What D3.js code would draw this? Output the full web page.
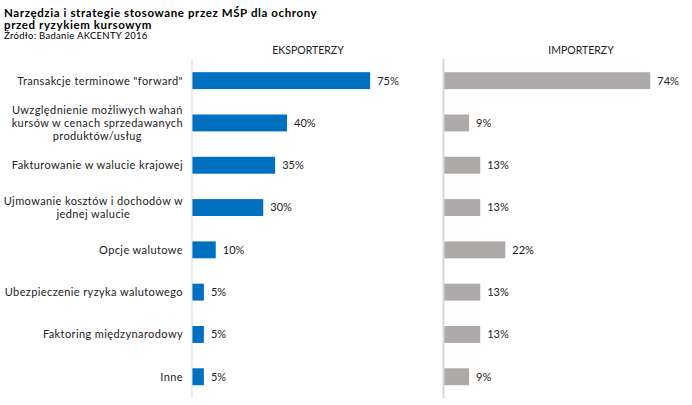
<!DOCTYPE html>
<html><head><meta charset="utf-8">
<script src="https://cdn.jsdelivr.net/npm/d3@7/dist/d3.min.js"></script>
<style>
html,body{margin:0;padding:0;background:#fff;}
svg{display:block;font-family:"Lato","DejaVu Sans",sans-serif;}
</style></head>
<body>
<svg id="chart" width="692" height="405"></svg>
<script>
const titleLines = ["Narzędzia i strategie stosowane przez MŚP dla ochrony", "przed ryzykiem kursowym"];
const sourceText = "Źródło: Badanie AKCENTY 2016";
const panelTitles = ["EKSPORTERZY", "IMPORTERZY"];
const categories = [
  "Transakcje terminowe \"forward\"",
  "Uwzględnienie możliwych wahań kursów w cenach sprzedawanych produktów/usług",
  "Fakturowanie w walucie krajowej",
  "Ujmowanie kosztów i dochodów w jednej walucie",
  "Opcje walutowe",
  "Ubezpieczenie ryzyka walutowego",
  "Faktoring międzynarodowy",
  "Inne"
];
const categoryLines = [
  ["Transakcje terminowe \"forward\""],
  ["Uwzględnienie możliwych wahań", "kursów w cenach sprzedawanych", "produktów/usług"],
  ["Fakturowanie w walucie krajowej"],
  ["Ujmowanie kosztów i dochodów w", "jednej walucie"],
  ["Opcje walutowe"],
  ["Ubezpieczenie ryzyka walutowego"],
  ["Faktoring międzynarodowy"],
  ["Inne"]
];
const exporters = [75, 40, 35, 30, 10, 5, 5, 5];
const importers = [74, 9, 13, 13, 22, 13, 13, 9];

const svg = d3.select("#chart");

// Title
const title = svg.append("text")
  .style("font-size", "11.5px").style("font-weight", "bold")
  .style("letter-spacing", "0.6px").attr("fill", "#000");
titleLines.forEach((ln, i) => {
  title.append("tspan").attr("x", 4).attr("y", 17 + i * 11.6).text(ln);
});
svg.append("text").attr("x", 4).attr("y", 38.5)
  .style("font-size", "9.5px").style("letter-spacing", "0.3px").attr("fill", "#000")
  .text(sourceText);

const y = d3.scaleBand().domain(categories).range([59.5, 397.9])
  .paddingInner(0.6).paddingOuter(0.3);

const xL = d3.scaleLinear().domain([0, 80]).range([192, 382]);
const xR = d3.scaleLinear().domain([0, 80]).range([444, 667]);

function panel(x, values, color, title, titleX, axisW) {
  const g = svg.append("g");
  g.append("text").attr("x", titleX).attr("y", 54).attr("text-anchor", "middle")
    .style("font-size", "10.5px").attr("fill", "#222").text(title);
  g.selectAll("rect").data(values).join("rect")
    .attr("x", x(0))
    .attr("y", (d, i) => y(categories[i]))
    .attr("width", d => x(d) - x(0))
    .attr("height", y.bandwidth())
    .attr("fill", color);
  g.append("line").attr("x1", x(0) - axisW / 2 + 0.5).attr("x2", x(0) - axisW / 2 + 0.5)
    .attr("y1", 59).attr("y2", 398)
    .attr("stroke", "#d9d9d9").attr("stroke-width", axisW);
  g.selectAll("text.val").data(values).join("text").attr("class", "val")
    .attr("x", d => x(d) + 7)
    .attr("y", (d, i) => y(categories[i]) + y.bandwidth() / 2)
    .attr("dy", "0.35em")
    .style("font-size", "11px").attr("fill", "#222")
    .text(d => d + "%");
}
panel(xL, exporters, "#0070C0", panelTitles[0], 308, 1);
panel(xR, importers, "#AEAAAA", panelTitles[1], 581, 2);

// Category labels
const labelRight = 183;
const lineH = 12.8;
categoryLines.forEach((lines, i) => {
  const cy = y(categories[i]) + y.bandwidth() / 2;
  const t = svg.append("text").style("font-size", "11px")
    .style("letter-spacing", "0.4px").attr("fill", "#222")
    .attr("text-anchor", "middle");
  const n = lines.length;
  lines.forEach((ln, j) => {
    t.append("tspan").attr("x", 0).attr("y", cy + (j - (n - 1) / 2) * lineH)
      .attr("dy", "0.35em").text(ln);
  });
  let maxW = 0;
  t.selectAll("tspan").each(function () { maxW = Math.max(maxW, this.getComputedTextLength()); });
  t.selectAll("tspan").attr("x", labelRight - maxW / 2);
});
</script>
</body></html>
